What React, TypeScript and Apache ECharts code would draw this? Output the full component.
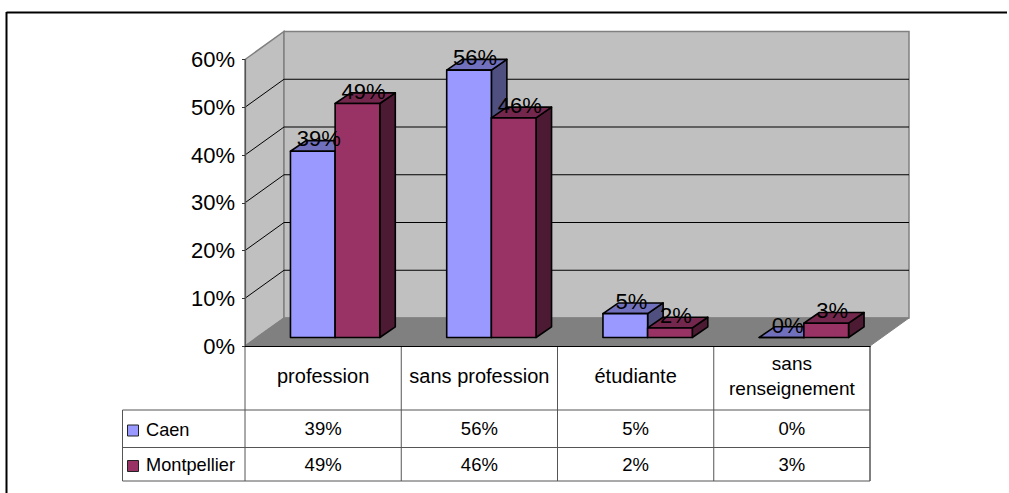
import React, { useEffect, useRef } from "react";
import * as echarts from "echarts";

const categories = ["profession", "sans profession", "étudiante", "sans\nrenseignement"];
const seriesNames = ["Caen", "Montpellier"];
const caen = [39, 56, 5, 0];
const montpellier = [49, 46, 2, 3];
const yTicks = [0, 10, 20, 30, 40, 50, 60];

const FACE = ["#9999FF", "#993366"];
const TOP = ["#7070BC", "#74274D"];
const SIDE = ["#4F4F80", "#4D1A33"];
const FONT = "Liberation Sans, Arial, sans-serif";

// layout of the 3D box (pixels)
const DX = 39;
const DY = -28;
const BAR_SHIFT_X = 12;
const BAR_SHIFT_Y = -8.5;
const BAR_DX = 15.5;
const BAR_DY = -10.7;
const BAR_FRAC = 44.6 / 156;

const poly = (points: number[][], style: any, z2 = 0) => ({
  type: "polygon",
  z2,
  shape: { points },
  style,
});
const seg = (x1: number, y1: number, x2: number, y2: number, stroke: string, lineWidth = 1, z2 = 0) => ({
  type: "line",
  z2,
  shape: { x1, y1, x2, y2 },
  style: { stroke, lineWidth, fill: "none" },
});

function App() {
  const ref = useRef<HTMLDivElement>(null);
  useEffect(() => {
    const chart = echarts.init(ref.current!, undefined, { renderer: "svg" });

    const renderWalls = (_: any, api: any) => {
      const band = api.size([1, 0])[0];
      const [x0, y0] = api.coord([0, 0]);
      const left = x0 - band / 2;
      const right = left + band * categories.length;
      const yTop = api.coord([0, yTicks[yTicks.length - 1]])[1];
      const children: any[] = [
        poly([[left, yTop], [left + DX, yTop + DY], [left + DX, y0 + DY], [left, y0]], { fill: "#C0C0C0", stroke: "#808080", lineWidth: 1.5 }),
        poly([[left + DX, yTop + DY], [right + DX, yTop + DY], [right + DX, y0 + DY], [left + DX, y0 + DY]], { fill: "#C0C0C0", stroke: "#808080", lineWidth: 1.5 }),
      ];
      yTicks.slice(1, -1).forEach((t) => {
        const y = api.coord([0, t])[1];
        children.push(seg(left, y, left + DX, y + DY, "#000"));
        children.push(seg(left + DX, y + DY, right + DX, y + DY, "#000"));
      });
      children.push(poly([[left, y0], [right, y0], [right + DX, y0 + DY], [left + DX, y0 + DY]], { fill: "#808080", stroke: "#808080", lineWidth: 1 }));
      return { type: "group", children };
    };

    const renderBar = (s: number) => (_: any, api: any) => {
      const i = api.value(0);
      const v = api.value(1);
      const band = api.size([1, 0])[0];
      const w = band * BAR_FRAC;
      const [cx, y0] = api.coord([i, 0]);
      const yv = api.coord([i, v])[1];
      const x1 = cx + BAR_SHIFT_X + (s - 1) * w;
      const x2 = x1 + w;
      const b = y0 + BAR_SHIFT_Y;
      const t = yv + BAR_SHIFT_Y;
      const stroke = { stroke: "#000", lineWidth: 1.6, lineJoin: "round" };
      return {
        type: "group",
        children: [
          poly([[x2, t], [x2 + BAR_DX, t + BAR_DY], [x2 + BAR_DX, b + BAR_DY], [x2, b]], { fill: SIDE[s], ...stroke }),
          poly([[x1, t], [x1 + BAR_DX, t + BAR_DY], [x2 + BAR_DX, t + BAR_DY], [x2, t]], { fill: TOP[s], ...stroke }),
          poly([[x1, t], [x2, t], [x2, b], [x1, b]], { fill: FACE[s], ...stroke }),
        ],
      };
    };

    const renderBarLabel = (s: number) => (_: any, api: any) => {
      const i = api.value(0);
      const v = api.value(1);
      const band = api.size([1, 0])[0];
      const w = band * BAR_FRAC;
      const [cx] = api.coord([i, 0]);
      const yv = api.coord([i, v])[1];
      return {
        type: "text",
        x: cx + BAR_SHIFT_X + (s - 0.5) * w + 6,
        y: yv + BAR_SHIFT_Y - 12.5,
        style: { text: v + "%", font: `22px ${FONT}`, fill: "#000", align: "center", verticalAlign: "middle" },
      };
    };

    // Table: grid lines and row texts, positioned from the category axis
    const rowMid = [428.5, 464];
    const rowEdges = [410, 447.5, 481];
    const TABLE_LEFT = 122.5;
    const renderTableLines = (_: any, api: any) => {
      const band = api.size([1, 0])[0];
      const [x0, y0] = api.coord([0, 0]);
      const left = x0 - band / 2;
      const right = left + band * categories.length;
      const children: any[] = [];
      categories.forEach((_c, i) => {
        children.push(seg(left + band * i, y0, left + band * i, rowEdges[2], "#555", 1));
      });
      children.push(seg(right, y0, right, rowEdges[2], "#000", 1));
      children.push(seg(TABLE_LEFT, rowEdges[0], TABLE_LEFT, rowEdges[2], "#555", 1));
      rowEdges.forEach((y) => children.push(seg(TABLE_LEFT, y, right, y, "#555", 1)));
      seriesNames.forEach((name, r) => {
        children.push({
          type: "rect",
          shape: { x: 127.5, y: rowMid[r] - 3.5, width: 11, height: 11 },
          style: { fill: FACE[r], stroke: "#222", lineWidth: 1 },
        });
        children.push({
          type: "text",
          x: 146,
          y: rowMid[r] + 1,
          style: { text: name, font: `18.2px ${FONT}`, fill: "#000", align: "left", verticalAlign: "middle" },
        });
      });
      return { type: "group", children };
    };
    const renderTableCell = (r: number) => (_: any, api: any) => {
      const i = api.value(0);
      const v = api.value(1);
      return {
        type: "text",
        x: api.coord([i, 0])[0],
        y: rowMid[r],
        style: { text: v + "%", font: `18.5px ${FONT}`, fill: "#000", align: "center", verticalAlign: "middle" },
      };
    };

    const values = [caen, montpellier];
    const pairs = (arr: number[]) => arr.map((v, i) => [i, v]);

    chart.setOption({
      animation: false,
      backgroundColor: "#fff",
      grid: { left: 245, top: 59.5, width: 625, height: 286.5 },
      xAxis: {
        type: "category",
        data: categories.map((c) => ({
          value: c,
          textStyle: {
            fontSize: c.includes("\n") ? 19 : 20,
            fontFamily: FONT,
            color: "#000",
            verticalAlign: "middle",
            lineHeight: 25,
          },
        })),
        z: 5,
        axisLine: { show: true, lineStyle: { color: "#000", width: 1.2 } },
        axisTick: { show: false },
        axisLabel: {
          interval: 0,
          margin: 30,
          verticalAlign: "middle",
          color: "#000",
          fontFamily: FONT,
          fontSize: 19,
          lineHeight: 25,
        },
      },
      yAxis: {
        type: "value",
        min: 0,
        max: 60,
        interval: 10,
        z: 5,
        axisLine: { show: true, onZero: false, lineStyle: { color: "#555", width: 1.2 } },
        axisTick: { show: true, length: 3, lineStyle: { color: "#333" } },
        splitLine: { show: false },
        axisLabel: {
          formatter: "{value}%",
          margin: 10,
          color: "#000",
          fontFamily: FONT,
          fontSize: 22,
          padding: [0, 0, 2, 0],
        },
      },
      graphic: [
        { type: "line", shape: { x1: 6.5, y1: 12.5, x2: 1007, y2: 12.5 }, style: { stroke: "#000", lineWidth: 2 } },
        { type: "line", shape: { x1: 6.5, y1: 12, x2: 6.5, y2: 493 }, style: { stroke: "#000", lineWidth: 2 } },
      ],
      series: [
        { type: "custom", name: "walls", z: 1, silent: true, renderItem: renderWalls, data: [[0, 0]], clip: false },
        ...values.map((vals, s) => ({
          type: "custom",
          name: seriesNames[s],
          z: 2 + s,
          renderItem: renderBar(s),
          data: pairs(vals),
          clip: false,
        })),
        ...values.map((vals, s) => ({
          type: "custom",
          name: seriesNames[s] + " labels",
          z: 6,
          renderItem: renderBarLabel(s),
          data: pairs(vals),
          clip: false,
        })),
        { type: "custom", name: "table", z: 4, renderItem: renderTableLines, data: [[0, 0]], clip: false },
        ...values.map((vals, r) => ({
          type: "custom",
          name: seriesNames[r] + " table",
          z: 6,
          renderItem: renderTableCell(r),
          data: pairs(vals),
          clip: false,
        })),
      ],
    });
    return () => chart.dispose();
  }, []);
  return <div ref={ref} style={{ position: "fixed", left: 0, top: 0, width: 1009, height: 493 }} />;
}

export default App;
